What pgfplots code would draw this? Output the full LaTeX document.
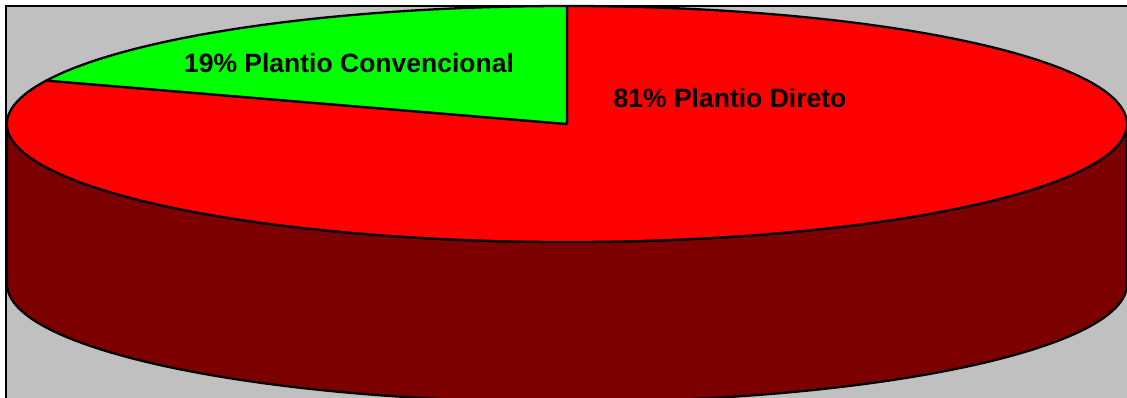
\documentclass[border=0pt]{standalone}
\usepackage{pgfplots}
\pgfplotsset{compat=1.18}
\usepackage{pgfplotstable}
\usepackage{fontspec}
\setmainfont{Liberation Sans}
\definecolor{bg}{RGB}{192,192,192}
\definecolor{darkred}{RGB}{125,0,0}
\definecolor{pgreen}{RGB}{0,255,0}
\definecolor{pred}{RGB}{255,0,0}
\pgfplotstableread{
value label
19 Convencional
81 Direto
}\pietable
\pgfplotstablegetelem{0}{value}\of\pietable \let\vConv\pgfplotsretval
\pgfplotstablegetelem{1}{value}\of\pietable \let\vDir\pgfplotsretval
\pgfmathsetmacro\angM{90+3.6*\vConv}
\pgfmathsetmacro\angE{\angM+3.6*\vDir}
\begin{document}
\begin{tikzpicture}
\begin{axis}[width=1127pt,height=397pt,scale only axis,
  xmin=0,xmax=1127,ymin=0,ymax=397,hide axis,clip=true]
\fill[bg] (axis cs:6,-10) rectangle (axis cs:1140,391);
\draw[line width=2.2pt] (axis cs:6,-10) -- (axis cs:6,391) -- (axis cs:1140,391);
% side of the cylinder
\filldraw[fill=darkred,line width=2.3pt,line join=round]
  (axis cs:7,273) -- (axis cs:7,113)
  arc[start angle=180,end angle=360,x radius=560pt,y radius=118pt]
  -- (axis cs:1127,273)
  arc[start angle=0,end angle=-180,x radius=560pt,y radius=118pt] -- cycle;
% red wedge
\filldraw[fill=pred,line width=2.3pt,line join=round]
  (axis cs:567,273) -- ++(\angM:560pt and 118pt)
  arc[start angle=\angM,end angle=\angE,x radius=560pt,y radius=118pt] -- cycle;
% green wedge
\filldraw[fill=pgreen,line width=2.3pt,line join=round]
  (axis cs:567,273) -- ++(90:560pt and 118pt)
  arc[start angle=90,end angle=\angM,x radius=560pt,y radius=118pt] -- cycle;
\node[anchor=base,font=\bfseries\fontsize{26.5}{30}\selectfont] at (axis cs:349,324) {\vConv\% Plantio Convencional};
\node[anchor=base,font=\bfseries\fontsize{26.5}{30}\selectfont] at (axis cs:730,289) {\vDir\% Plantio Direto};
\end{axis}
\pgfresetboundingbox
\useasboundingbox (current axis.south west) rectangle (current axis.north east);
\end{tikzpicture}
\end{document}
